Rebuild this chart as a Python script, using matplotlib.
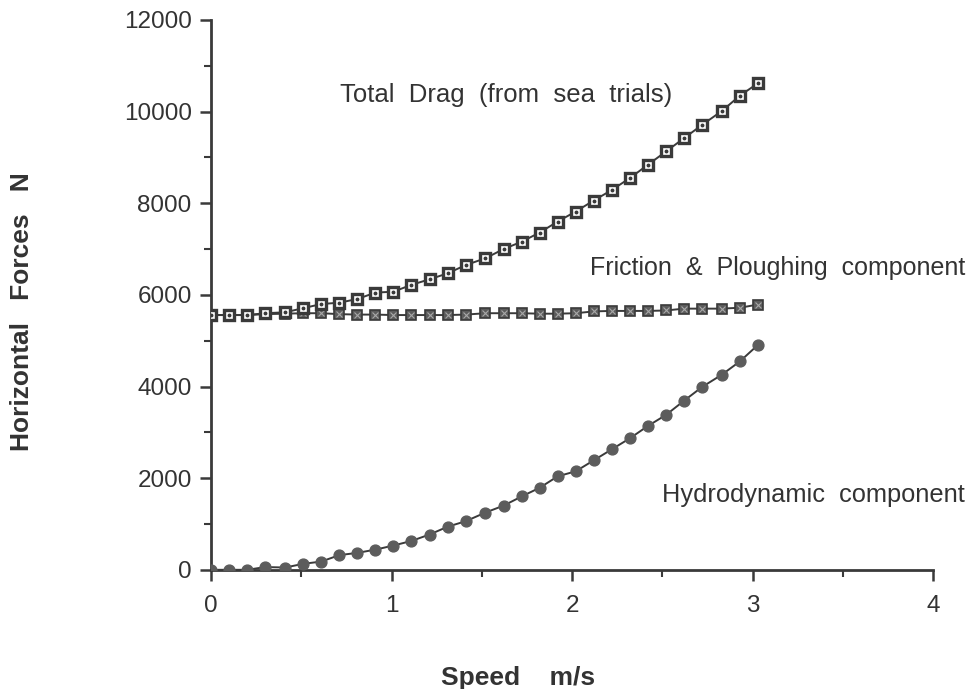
import matplotlib.pyplot as plt
from matplotlib.ticker import MultipleLocator

plt.rcParams["font.family"] = ["Liberation Sans", "DejaVu Sans"]

speed = [0, 0.10, 0.20, 0.30, 0.41, 0.51, 0.61, 0.71, 0.81, 0.91, 1.01,
         1.11, 1.21, 1.31, 1.41, 1.52, 1.62, 1.72, 1.82, 1.92, 2.02,
         2.12, 2.22, 2.32, 2.42, 2.52, 2.62, 2.72, 2.83, 2.93, 3.03]

total_drag = [5560, 5560, 5560, 5600, 5620, 5710, 5800, 5830, 5910, 6050, 6070,
              6220, 6340, 6470, 6650, 6800, 7000, 7160, 7360, 7600, 7820,
              8060, 8290, 8550, 8840, 9130, 9420, 9710, 10015, 10350, 10620]

friction = [5560, 5560, 5560, 5580, 5590, 5600, 5600, 5580, 5570, 5570, 5560,
            5560, 5560, 5560, 5570, 5600, 5600, 5600, 5590, 5590, 5600,
            5640, 5650, 5650, 5650, 5660, 5700, 5700, 5700, 5720, 5790]

hydro = [0, 0, 0, 60, 50, 130, 180, 320, 370, 440, 530,
         630, 770, 940, 1060, 1250, 1400, 1600, 1790, 2040, 2150,
         2390, 2630, 2870, 3140, 3380, 3690, 3990, 4260, 4550, 4910]

ink = "#3a3a3a"
grey = "#5c5c5c"
text_col = "#333333"

fig = plt.figure(figsize=(9.73, 6.89), dpi=100)
ax = fig.add_axes([0.217, 0.173, 0.742, 0.798])

# friction & ploughing: dark hatched squares
ax.plot(speed, friction, color=ink, lw=1.4, zorder=2)
ax.plot(speed, friction, ls="none", marker="s", ms=7, mfc=grey,
        mec=ink, mew=1.2, zorder=3)
ax.plot(speed, friction, ls="none", marker="x", ms=4.5, mec="#a8a8a8",
        mew=0.8, zorder=4)

# total drag: open squares with a dot
ax.plot(speed, total_drag, color=ink, lw=1.4, zorder=5)
ax.plot(speed, total_drag, ls="none", marker="s", ms=6.5, mfc="white",
        mec=ink, mew=2.4, zorder=6)
ax.plot(speed, total_drag, ls="none", marker="o", ms=1.8, mfc=ink,
        mec=ink, zorder=7)

# hydrodynamic: filled grey dots
ax.plot(speed, hydro, color=ink, lw=1.4, marker="o", ms=7.8, mfc=grey,
        mec=grey, zorder=5)

ax.set_xlim(0, 4)
ax.set_ylim(0, 12000)
ax.xaxis.set_major_locator(MultipleLocator(1))
ax.xaxis.set_minor_locator(MultipleLocator(0.5))
ax.yaxis.set_major_locator(MultipleLocator(2000))
ax.yaxis.set_minor_locator(MultipleLocator(1000))

for side in ["top", "right"]:
    ax.spines[side].set_visible(False)
for side in ["left", "bottom"]:
    ax.spines[side].set_linewidth(2)
    ax.spines[side].set_color(ink)

ax.tick_params(which="major", direction="out", length=8, width=1.8,
               color=ink, labelsize=17.5, labelcolor=text_col, pad=6)
ax.tick_params(axis="x", which="major", pad=10)
ax.tick_params(which="minor", direction="out", length=5, width=1.5,
               color=ink)

ax.text(0.715, 10360, "Total  Drag  (from  sea  trials)", fontsize=18.5,
        color=text_col, va="center")
ax.text(2.10, 6590, "Friction  &  Ploughing  component", fontsize=18,
        color=text_col, va="center")
ax.text(2.50, 1640, "Hydrodynamic  component", fontsize=18.3,
        color=text_col, va="center")

fig.text(22 / 973, 1 - 312 / 689, "Horizontal   Forces   N", rotation=90,
         fontsize=19, fontweight="bold", color=text_col,
         ha="center", va="center")
fig.text(518 / 973, 1 - 678 / 689, "Speed    m/s", fontsize=19,
         fontweight="bold", color=text_col, ha="center", va="center")

fig.savefig("out.png", dpi=100)
plt.close(fig)
